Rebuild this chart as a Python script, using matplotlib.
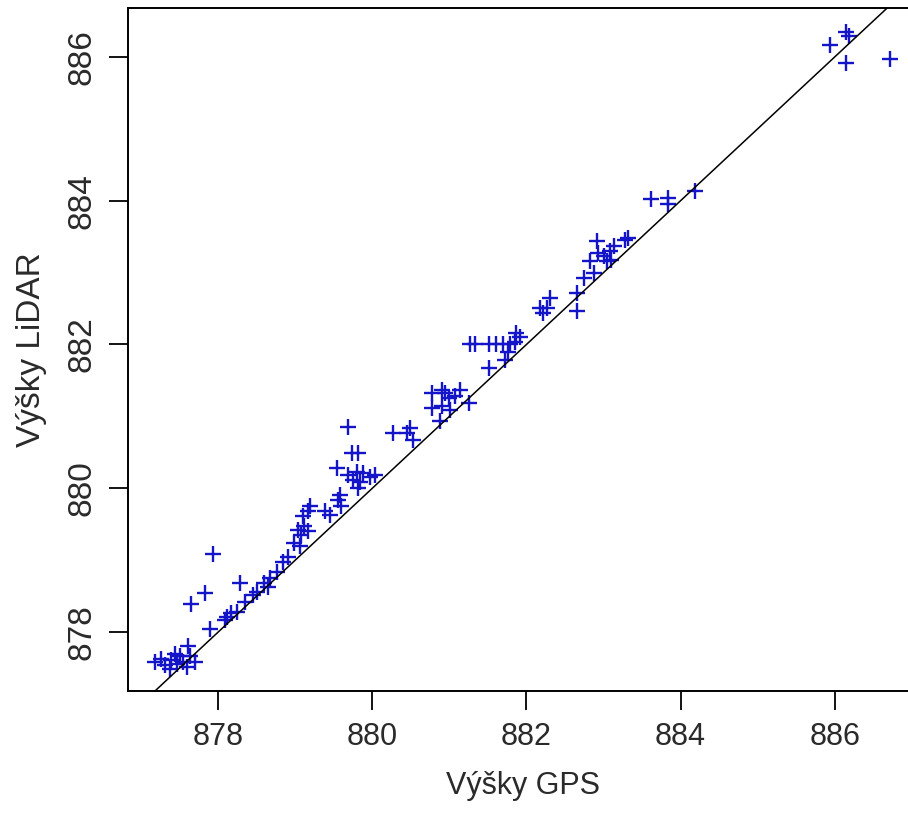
import numpy as np
import matplotlib.pyplot as plt

# GPS heights (x) and LiDAR heights (y)
gps = [877.18, 877.26, 877.31, 877.39, 877.46, 877.50, 877.55, 877.61, 877.63, 877.70,
       877.37, 877.44, 877.59,
       877.93, 877.83, 877.65, 878.28, 877.89, 878.12, 878.17, 878.24, 878.09,
       878.35, 878.45, 878.50, 878.60, 878.67, 878.65, 878.76, 878.84, 878.91,
       879.08, 879.04, 879.12, 878.99, 879.06, 879.17, 879.10, 879.17, 879.19,
       879.38, 879.45, 879.56, 879.60, 879.58,
       879.69, 879.73, 879.82, 879.54, 879.69, 879.80, 879.88, 879.97, 880.04,
       879.84, 879.82, 879.75,
       880.27, 880.45, 880.49, 880.53,
       880.77, 880.90, 880.94, 881.14, 880.77, 880.90, 881.01, 880.99, 881.07,
       881.25, 880.88,
       881.27, 881.33, 881.51, 881.60, 881.70, 881.79, 881.85, 881.87, 881.92,
       881.52, 881.72, 881.76,
       882.18, 882.31, 882.22, 882.26, 882.65, 882.65,
       882.74, 882.87, 882.82, 882.91, 883.00, 883.08, 883.13, 883.04, 883.10,
       883.28, 883.32, 882.93,
       883.62, 883.84, 883.84, 884.19,
       885.94, 886.15, 886.18, 886.15, 886.72]
lidar = [877.59, 877.63, 877.54, 877.61, 877.56, 877.66, 877.59, 877.80, 877.66, 877.59,
         877.49, 877.70, 877.52,
         879.09, 878.54, 878.39, 878.68, 878.04, 878.21, 878.26, 878.28, 878.17,
         878.42, 878.52, 878.56, 878.68, 878.75, 878.63, 878.84, 878.98, 879.05,
         879.35, 879.42, 879.47, 879.24, 879.19, 879.40, 879.61, 879.68, 879.75,
         879.68, 879.63, 879.84, 879.75, 879.91,
         880.85, 880.49, 880.49, 880.28, 880.19, 880.23, 880.21, 880.16, 880.19,
         880.09, 880.00, 880.12,
         880.77, 880.77, 880.84, 880.67,
         881.32, 881.37, 881.32, 881.37, 881.12, 881.14, 881.09, 881.26, 881.28,
         881.19, 880.93,
         882.00, 882.00, 882.01, 882.00, 882.00, 882.00, 882.04, 882.16, 882.11,
         881.67, 881.79, 881.89,
         882.51, 882.65, 882.44, 882.51, 882.46, 882.72,
         882.93, 883.00, 883.16, 883.44, 883.23, 883.30, 883.37, 883.16, 883.18,
         883.46, 883.48, 883.27,
         884.02, 884.04, 883.95, 884.13,
         886.17, 886.34, 886.29, 885.92, 885.97]
ticks = [878, 880, 882, 884, 886]

plt.rcParams['font.family'] = ['Liberation Sans', 'DejaVu Sans']
txt = '#2a2a2a'

fig = plt.figure(figsize=(9.08, 8.13), dpi=100)
ax = fig.add_axes([128 / 908, 122 / 813, 790 / 908, 683 / 813])

ax.plot(gps, lidar, linestyle='none', marker='+', color='#1414c8',
        markersize=11, markeredgewidth=1.7)
ax.axline((877, 877), slope=1, color='black', lw=1.1)

ax.set_xlim(876.83, 887.08)
ax.set_ylim(877.18, 886.68)
ax.set_xticks(ticks)
ax.set_yticks(ticks)
ax.set_xticklabels([str(t) for t in ticks], fontsize=22, color=txt)
ax.set_yticklabels([str(t) for t in ticks], fontsize=24, color=txt,
                   rotation=90, va='center')
ax.tick_params(length=14, width=1.3, pad=8)

for s in ax.spines.values():
    s.set_linewidth(1.4)

ax.set_xlabel('Výšky GPS', fontsize=22, color=txt, labelpad=14)
ax.set_ylabel('Výšky LiDAR', fontsize=24, color=txt, labelpad=14)

fig.savefig('out.png', dpi=100)
